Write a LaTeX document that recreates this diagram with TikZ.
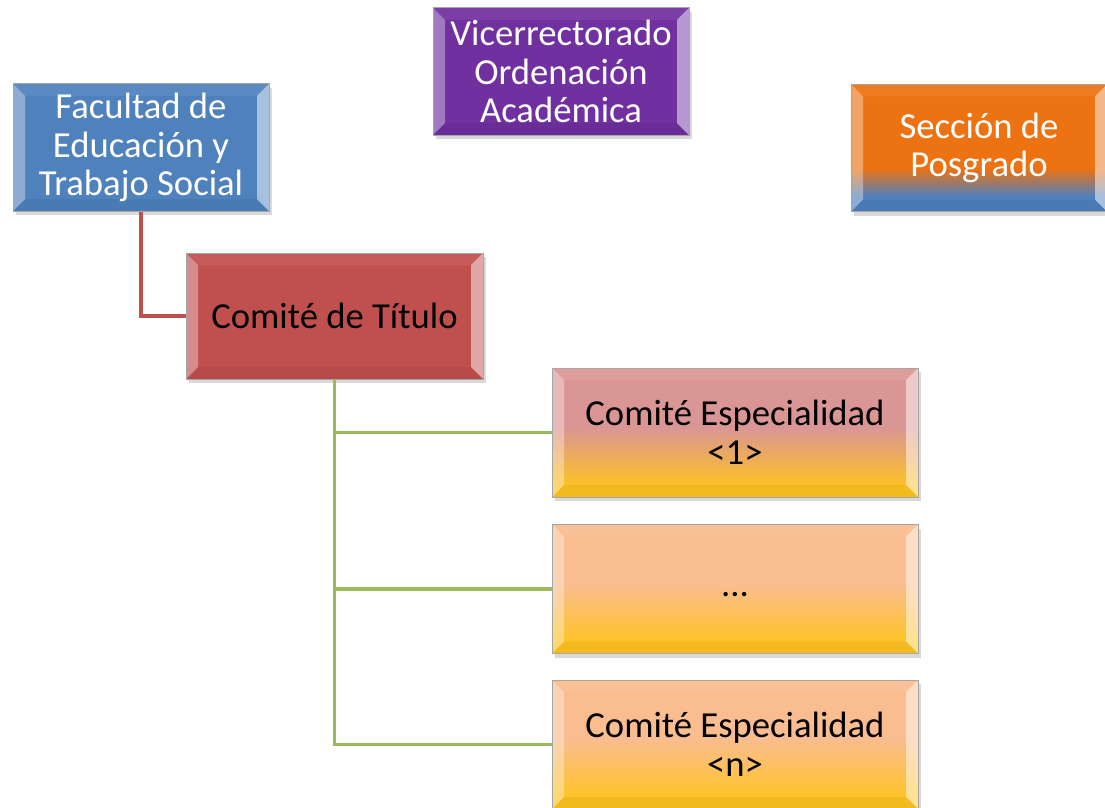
\documentclass[tikz,border=0pt]{standalone}
\usepackage{fontspec}
\setmainfont{Carlito}
\usetikzlibrary{shadows}

\definecolor{facblue}{RGB}{79,129,189}
\definecolor{viceviolet}{RGB}{112,48,160}
\definecolor{posorange}{RGB}{236,114,18}
\definecolor{titred}{RGB}{192,80,77}
\definecolor{esppink}{RGB}{218,150,148}
\definecolor{esppeach}{RGB}{250,189,143}
\definecolor{espyellow}{RGB}{255,196,30}
\definecolor{linered}{RGB}{192,80,77}
\definecolor{linegreen}{RGB}{155,187,89}

\pgfdeclareverticalshading{posgrado}{100bp}{color(0bp)=(facblue); color(31bp)=(facblue); color(42bp)=(posorange); color(100bp)=(posorange)}
\pgfdeclareverticalshading{especial}{100bp}{color(0bp)=(espyellow); color(28bp)=(espyellow); color(52bp)=(esppink); color(100bp)=(esppink)}
\pgfdeclareverticalshading{especialb}{100bp}{color(0bp)=(espyellow); color(28bp)=(espyellow); color(52bp)=(esppeach); color(100bp)=(esppeach)}

\tikzset{
  bevel/.style={path picture={
      \coordinate (bnw) at (path picture bounding box.north west);
      \coordinate (bne) at (path picture bounding box.north east);
      \coordinate (bsw) at (path picture bounding box.south west);
      \coordinate (bse) at (path picture bounding box.south east);
      \fill[white,opacity=.35] (bnw) -- (bsw) -- ([shift={(9pt,9pt)}]bsw) -- ([shift={(9pt,-9pt)}]bnw) -- cycle;
      \fill[white,opacity=.07] (bnw) -- (bne) -- ([shift={(-9pt,-9pt)}]bne) -- ([shift={(9pt,-9pt)}]bnw) -- cycle;
      \fill[white,opacity=.5] (bne) -- (bse) -- ([shift={(-9pt,9pt)}]bse) -- ([shift={(-9pt,-9pt)}]bne) -- cycle;
      \fill[black,opacity=.05] (bsw) -- (bse) -- ([shift={(-9pt,9pt)}]bse) -- ([shift={(9pt,9pt)}]bsw) -- cycle;
    }},
  caja/.style={rectangle, draw=black!35, line width=.6pt, bevel,
    drop shadow={opacity=.3, shadow xshift=2pt, shadow yshift=-3pt},
    align=center, font=\fontsize{27.5}{29}\selectfont},
  arriba/.style={caja, text=white, minimum width=192pt, minimum height=95.5pt},
  comite/.style={caja, minimum width=274.5pt, minimum height=96.75pt},
  rama/.style={line width=2.3pt, linegreen}
}

\begin{document}
\begin{tikzpicture}[x=0.75pt, y=-0.75pt]
  \useasboundingbox (0,0) rectangle (1105,807);
  \node[arriba, fill=facblue] (fac) at (141,147.5) {Facultad de\\Educación y\\Trabajo Social};
  \node[arriba, fill=viceviolet] (vice) at (561,71.5) {Vicerrectorado\\Ordenación\\Académica};
  \node[arriba, shading=posgrado] (pos) at (979,148) {Sección de\\Posgrado};
  \node[caja, fill=titred, minimum width=222.75pt, minimum height=94.5pt] (tit) at (334.5,316) {Comité de Título};
  \node[comite, shading=especial] (esp1) at (735,432.5) {Comité Especialidad\\<1>};
  \node[comite, shading=especialb] (espdots) at (735,589) {\strut...};
  \node[comite, shading=especialb] (espn) at (735,744.5) {Comité Especialidad\\<n>};

  \draw[line width=3pt, linered] (fac.south) |- (tit.west);
  \draw[rama] (tit.south) |- (esp1.west);
  \draw[rama] (tit.south) |- (espdots.west);
  \draw[rama] (tit.south) |- (espn.west);
\end{tikzpicture}
\end{document}
